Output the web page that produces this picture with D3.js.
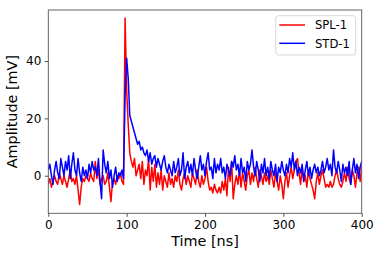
<!DOCTYPE html>
<html>
<head>
<meta charset="utf-8">
<script src="https://cdn.jsdelivr.net/npm/d3@7"></script>
<style>
  body { margin: 0; background: #fff; }
  svg { display: block; font-family: "DejaVu Sans", sans-serif; }
</style>
</head>
<body>
<svg id="chart" width="381" height="258"></svg>
<script>
// sample times [ns], 2 ns step
var time_ns = d3.range(0, 401, 2);

var spl_1 = [
  -3, -1, -4, -2, 0, -2, -3, 1, -1, -3,
  0, -2, -4, -1, 2, -2, -1, -3, 0, -5,
  -10, -4, -1, -2, 0, -1, -2, 1, -1, -2,
  5, -1, 2, -3, -1, 0, -3, -2, 1, -4,
  -9, -2, -1, -3, 0, -1, 1, -2, -3, 55,
  30, 18, 8, 5, 3, 6, 0, 2, 4, -1,
  5, -3, 2, 0, 6, -5, 3, -2, 4, -4,
  1, -3, 2, -5, 0, -2, -4, 1, -3, -1,
  -4, 0, -2, 2, -3, -5, -1, 1, -3, 0,
  -2, -4, 1, -1, -3, 2, -2, -4, 0, -3,
  -1, 3, -2, -5, -4, -6, -3, -5, -6, -4,
  -6, -2, -5, -1, -7, 3, -2, 5, -8, -3,
  0, -3, 2, -4, 1, -2, -5, 0, 2, -3,
  1, -2, 3, -1, -4, 2, 0, -3, 1, -2,
  0, -3, 2, -1, -4, 1, -2, -5, 0, -3,
  -8, -2, 1, -4, 0, 3, -1, 2, 5, 6,
  1, -3, 3, -2, 0, -4, 2, -1, -3, -5,
  -8, -2, 1, -3, 0, 2, -1, -4, -3, -4,
  -2, -4, -3, 0, 2, -1, -3, -4, -2, 1,
  -2, 3, -1, -3, 2, 0, -4, 1, 3, -2,
  3
];

var std_1 = [
  2, 4, 0, -3, 2, 5, 1, -1, 6, 3,
  0, 5, 2, 7, -1, 4, 8, 2, 0, 6,
  1, -2, 3, 0, 2, -1, 4, 1, 5, 2,
  3, 0, 6, -2, -8, 9, 4, 1, 5, -1,
  2, -4, 0, 3, -2, 1, 0, 2, -1, 28,
  41, 34, 21, 19, 17, 15, 13, 11, 12, 9,
  10, 8, 7, 9, 5, 8, 4, 6, 7, 3,
  6, 4, 2, 5, 7, 3, 1, 4, 2, 0,
  5, 1, 3, 6, 0, 2, 8, -1, 3, 5,
  1, 4, 0, 6, 2, -1, 3, 7, 2, 4,
  0, 5, 8, 2, 3, -1, 6, 1, 4, 2,
  6, 1, 3, -1, 4, 2, 0, 5, 3, 7,
  2, 4, 0, 6, 1, 3, -2, 5, 2, 4,
  9, 3, 0, 5, 2, -2, 4, 1, 6, 0,
  3, -1, 5, 2, 0, 4, -2, 3, 1, 5,
  2, 0, 4, 1, 6, 3, 8, 2, 5, 0,
  3, 1, 4, -2, 2, 5, 0, 3, -1, 2,
  4, 1, 3, 0, 2, 5, 1, 3, 6, 2,
  4, 0, 9, 3, 1, 5, 2, -2, 4, 1,
  3, 0, 5, -3, 2, 6, 1, 4, -1, 3,
  5
];

var series_names = ['SPL-1', 'STD-1'];
var series_colors = ['#ff0000', '#0000ff'];
var x_ticks = [0, 100, 200, 300, 400];
var y_ticks = [0, 20, 40];

/**************************************************************************************/

function draw(){
  var svg = d3.select('#chart');
  var m_left = 48.3, m_right = 361.7, m_top = 10, m_bottom = 213.3;

  var x = d3.scaleLinear().domain([0, 400]).range([m_left, m_right]);
  var y = d3.scaleLinear().domain([-13.1, 57.8]).range([m_bottom, m_top]);

  svg.append('clipPath').attr('id', 'plot_clip')
    .append('rect').attr('x', m_left).attr('y', m_top).attr('width', m_right-m_left).attr('height', m_bottom-m_top);

  var line = d3.line().x(function(d){ return x(d[0]); }).y(function(d){ return y(d[1]); });

  [spl_1, std_1].forEach(function(vals, i){
    svg.append('path')
      .datum(time_ns.map(function(t, j){ return [t, vals[j]]; }))
      .attr('clip-path', 'url(#plot_clip)')
      .attr('d', line)
      .style('fill', 'none')
      .style('stroke', series_colors[i])
      .style('stroke-width', 1.5)
      .style('stroke-linejoin', 'round');
  });

  // axes
  var x_axis = svg.append('g').attr('transform', 'translate(0,' +m_bottom+ ')')
    .call(d3.axisBottom(x).tickValues(x_ticks).tickSize(3.5).tickPadding(3.5));
  var y_axis = svg.append('g').attr('transform', 'translate(' +m_left+ ',0)')
    .call(d3.axisLeft(y).tickValues(y_ticks).tickSize(3.5).tickPadding(3.5));

  [x_axis, y_axis].forEach(function(g){
    g.select('.domain').remove();
    g.selectAll('line').style('stroke', '#222').style('stroke-width', 0.8);
    g.selectAll('text').style('font-family', '"DejaVu Sans", sans-serif').style('font-size', '12px').style('fill', '#000');
  });

  // frame
  svg.append('rect')
    .attr('x', m_left).attr('y', m_top).attr('width', m_right-m_left).attr('height', m_bottom-m_top)
    .style('fill', 'none').style('stroke', '#555').style('stroke-width', 0.9);

  // axis labels
  svg.append('text')
    .attr('x', (m_left+m_right)/2).attr('y', 246)
    .attr('text-anchor', 'middle')
    .style('font-size', '14.4px')
    .text('Time [ns]');

  svg.append('text')
    .attr('transform', 'translate(17,' +((m_top+m_bottom)/2)+ ') rotate(-90)')
    .attr('text-anchor', 'middle')
    .style('font-size', '14.4px')
    .text('Amplitude [mV]');

  // legend
  var legend = svg.append('g');
  legend.append('rect')
    .attr('x', 275.7).attr('y', 15.7).attr('width', 80).attr('height', 39.3)
    .attr('rx', 3).attr('ry', 3)
    .style('fill', '#fff').style('fill-opacity', 0.8)
    .style('stroke', '#ccc').style('stroke-width', 0.8);

  series_names.forEach(function(name, i){
    var ly = 25 + i*18.3;
    legend.append('line')
      .attr('x1', 279.3).attr('x2', 305).attr('y1', ly).attr('y2', ly)
      .style('stroke', series_colors[i]).style('stroke-width', 1.5);
    legend.append('text')
      .attr('x', 315).attr('y', ly + 4.2)
      .style('font-size', '11.6px')
      .text(name);
  });
}

draw();
</script>
</body>
</html>
